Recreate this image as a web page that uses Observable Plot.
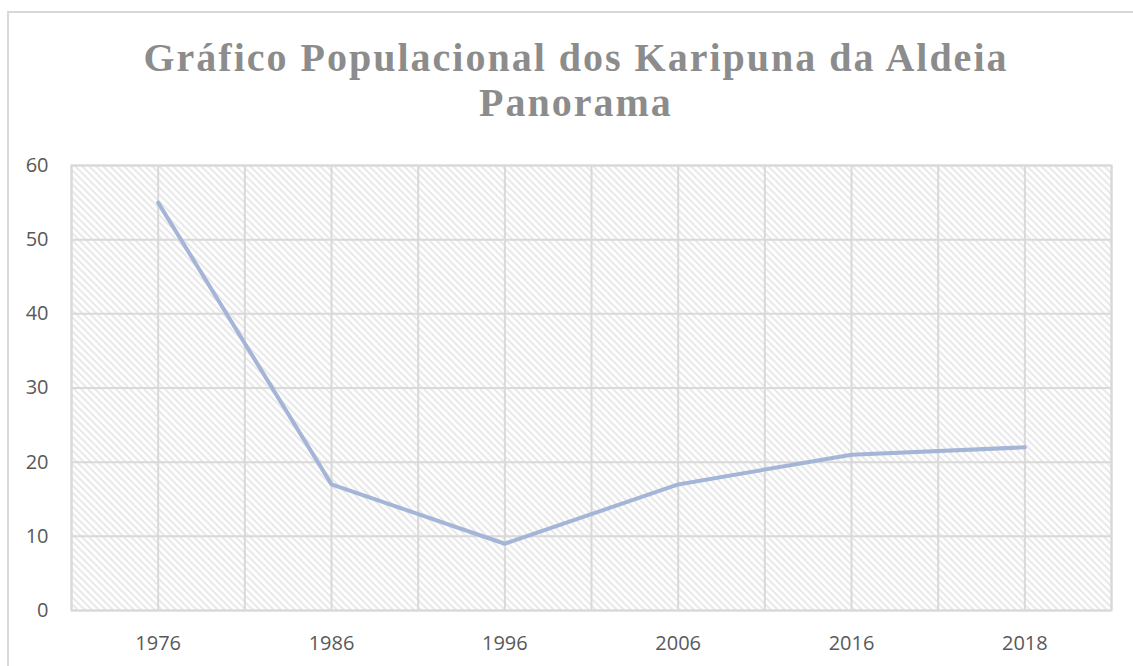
<!DOCTYPE html>
<html><head><meta charset="utf-8">
<script src="https://cdn.jsdelivr.net/npm/d3@7"></script>
<script src="https://cdn.jsdelivr.net/npm/@observablehq/plot@0.6"></script>
<style>
body{margin:0;background:#fff;width:1133px;height:666px;overflow:hidden;position:relative}
#box{position:absolute;left:7px;top:11px;width:1145px;height:700px;border:2px solid #d9d9d9;box-sizing:border-box}
#title{position:absolute;left:0;top:36px;width:1152px;text-align:center;font-family:"Liberation Serif";font-weight:bold;font-size:40px;letter-spacing:2px;line-height:44.5px;color:#8c8c8c}
#chart{position:absolute;left:0;top:140px}
</style></head>
<body>
<div id="box"></div>
<div id="title">Gráfico Populacional dos Karipuna da Aldeia<br>Panorama</div>
<div id="chart"></div>
<script>
const years = ["1976", "1986", "1996", "2006", "2016", "2018"];
const population = [55, 17, 9, 17, 21, 22];
const yTicks = [0, 10, 20, 30, 40, 50, 60];

const data = years.map((year, i) => ({i, year, value: population[i]}));
const xGrid = d3.range(-0.5, years.length, 0.5);

const svg = Plot.plot({
  width: 1133,
  height: 526,
  marginLeft: 71,
  marginRight: 22,
  marginTop: 25,
  marginBottom: 56,
  style: {fontFamily: "Open Sans", fontSize: "20px", color: "#595959", background: "transparent"},
  x: {domain: [-0.5, years.length - 0.5], ticks: d3.range(years.length), tickFormat: i => years[i], tickSize: 0, tickPadding: 25, label: null},
  y: {domain: [0, 60], ticks: yTicks, tickSize: 0, tickPadding: 23, label: null},
  marks: [
    Plot.frame({fill: "url(#hatch)", stroke: "#d9d9d9", strokeWidth: 2}),
    Plot.ruleX(xGrid, {stroke: "#d9d9d9", strokeWidth: 2}),
    Plot.ruleY(yTicks, {stroke: "#d9d9d9", strokeWidth: 2}),
    Plot.line(data, {x: "i", y: "value", stroke: "#a5b5d8", strokeWidth: 4, strokeLinejoin: "round", strokeLinecap: "round"})
  ]
});

const defs = d3.create("svg:defs");
const pat = defs.append("pattern").attr("id", "hatch").attr("patternUnits", "userSpaceOnUse")
  .attr("width", 7).attr("height", 7);
pat.append("rect").attr("width", 7).attr("height", 7).attr("fill", "#fff");
pat.append("path").attr("d", "M-1,-1 L8,8 M-1,6 L1,8 M6,-1 L8,1")
  .attr("stroke", "#dcdcdc").attr("stroke-width", 1.3);
svg.insertBefore(defs.node(), svg.firstChild);

document.getElementById("chart").appendChild(svg);
</script>
</body></html>
